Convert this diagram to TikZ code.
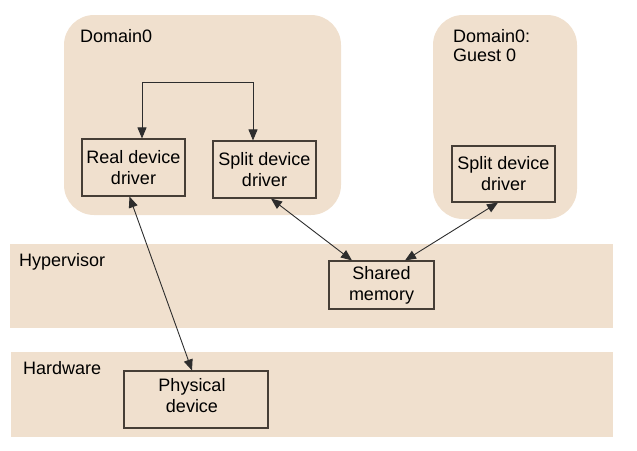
\documentclass[tikz,border=0pt]{standalone}
\usepackage{fontspec}
\setmainfont{Liberation Sans}
\usetikzlibrary{arrows.meta}
\definecolor{beige}{RGB}{240,224,206}
\definecolor{boxline}{RGB}{70,62,54}
\definecolor{arrline}{RGB}{45,45,45}
\tikzset{
  region/.style={fill=beige, draw=none},
  devbox/.style={draw=boxline, line width=1.1pt, fill=beige, inner sep=0pt, align=center,
    font=\fontsize{18}{21}\selectfont},
  boxtext/.style={inner sep=0pt, align=center, font=\fontsize{18}{21}\selectfont},
  lbl/.style={inner sep=0pt, anchor=west, align=left, font=\fontsize{18}{19.5}\selectfont},
  conn/.style={draw=arrline, line width=0.9pt},
  biarrow/.style={conn, {Triangle[length=11pt,width=9pt]}-{Triangle[length=11pt,width=9pt]}},
  downarrow/.style={conn, -{Triangle[length=11pt,width=9pt]}}
}
\begin{document}
\begin{tikzpicture}[x=1pt,y=-1pt]
\useasboundingbox (0,0) rectangle (637,450);
% regions
\fill[region, rounded corners=30pt] (64,15) rectangle (341,215);
\fill[region, rounded corners=30pt] (433,15) rectangle (577,219);
\fill[region] (10,244) rectangle (613,328);
\fill[region] (11,352) rectangle (613,437);
% labels
\node[lbl] (ldom) at (80,36) {Domain0};
\node[lbl] (lguest) at (453,45.5) {Domain0:\\Guest 0};
\node[lbl] (lhyp) at (19,262) {Hypervisor};
\node[lbl] (lhw) at (23,368) {Hardware};
% boxes
\node[devbox, minimum width=103pt, minimum height=57pt] (rdd) at (133.5,167.5) {Real device\\driver};
\node[devbox, minimum width=103pt, minimum height=57pt] (sdd) at (264.5,169.5) {Split device\\driver};
\node[devbox, minimum width=103pt, minimum height=56pt] (gdd) at (503.5,174) {Split device\\driver};
\node[devbox, minimum width=105pt, minimum height=48pt] (sm) at (381.5,285) {Shared\\memory};
\node[devbox, minimum width=144pt, minimum height=57pt] (pd) at (196,399.5) {};
\node[boxtext] (pdtext) at (192,395.5) {Physical\\device};
% bracket in Domain0
\coordinate (tl) at (142,82);
\coordinate (tr) at (253,82);
\draw[conn] (tl) -- (tr);
\draw[downarrow] (tl) -- (tl |- rdd.north);
\draw[downarrow] (tr) -- (tr |- sdd.north);
% bidirectional connectors
\draw[biarrow] ([xshift=-4pt]rdd.south) -- ([xshift=-4pt]pd.north);
\draw[biarrow] ([xshift=6.5pt]sdd.south) -- ([xshift=-29.5pt]sm.north);
\draw[biarrow] ([xshift=-5.5pt]gdd.south) -- ([xshift=23.5pt]sm.north);
\end{tikzpicture}
\end{document}
